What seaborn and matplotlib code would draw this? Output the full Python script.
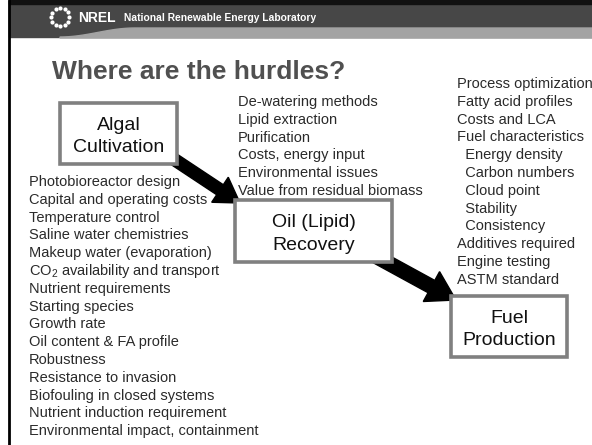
import numpy as np
import seaborn as sns
import matplotlib.pyplot as plt
from matplotlib.patches import Rectangle, Polygon, FancyArrow

# Slide text
title = "Where are the hurdles?"
header_org = "National Renewable Energy Laboratory"

stages = ["Algal\nCultivation", "Oil (Lipid)\nRecovery", "Fuel\nProduction"]

cultivation_hurdles = [
    "Photobioreactor design",
    "Capital and operating costs",
    "Temperature control",
    "Saline water chemistries",
    "Makeup water (evaporation)",
    "CO$_2$ availability and transport",
    "Nutrient requirements",
    "Starting species",
    "Growth rate",
    "Oil content & FA profile",
    "Robustness",
    "Resistance to invasion",
    "Biofouling in closed systems",
    "Nutrient induction requirement",
    "Environmental impact, containment",
]
recovery_hurdles = [
    "De-watering methods",
    "Lipid extraction",
    "Purification",
    "Costs, energy input",
    "Environmental issues",
    "Value from residual biomass",
]
fuel_hurdles = [
    "Process optimization",
    "Fatty acid profiles",
    "Costs and LCA",
    "Fuel characteristics",
    "  Energy density",
    "  Carbon numbers",
    "  Cloud point",
    "  Stability",
    "  Consistency",
    "Additives required",
    "Engine testing",
    "ASTM standard",
]

sns.set_theme(style="white")
plt.rcParams['font.family'] = ['Liberation Sans', 'DejaVu Sans']
plt.rcParams['mathtext.fontset'] = 'custom'
plt.rcParams['mathtext.rm'] = 'Liberation Sans'
plt.rcParams['mathtext.default'] = 'regular'

W, H = 592, 445
fig = plt.figure(figsize=(W / 100, H / 100), dpi=100)
ax = fig.add_axes([0, 0, 1, 1])
ax.set_xlim(0, W)
ax.set_ylim(H, 0)
ax.axis('off')

# header band
ax.add_patch(Rectangle((9, 0), W, 37, color='#474747', zorder=1))
ax.add_patch(Rectangle((9, 0), W, 4, color='#111111', zorder=2))
sx = np.linspace(60, 135, 30)
top = 37 - 9 * (1 - np.cos((sx - 60) / 75 * np.pi)) / 2
swoosh = list(zip(sx, top)) + [(W, 28), (W, 38), (60, 38)]
ax.add_patch(Polygon(swoosh, closed=True, color='#a3a3a3', zorder=2))
ax.plot([9, 9], [0, H], color='black', lw=2, zorder=3)

# logo dots
ang = np.linspace(0, 2 * np.pi, 12, endpoint=False)
ax.scatter(60 + 9 * np.cos(ang), 17 + 9 * np.sin(ang), s=9, color='white', zorder=3, lw=0)
ax.text(78, 18, "NREL", color='white', fontsize=10, fontweight='bold', va='center', zorder=3)
ax.text(124, 18, header_org, color='white', fontsize=7.4, fontweight='bold', va='center', zorder=3)

ax.text(52, 72, title, color='#505050', fontsize=19, fontweight='bold', va='center')

# arrows
ax.add_patch(FancyArrow(160, 150, 80, 53, width=12, head_width=30, head_length=24,
                        length_includes_head=True, color='black', zorder=4))
ax.add_patch(FancyArrow(370, 253, 86, 47, width=14, head_width=34, head_length=28,
                        length_includes_head=True, color='black', zorder=4))

# stage boxes
boxes = [(60, 103, 117, 61), (235, 200, 157, 62), (451, 296, 116, 61)]
for (x, y, w, h), label in zip(boxes, stages):
    ax.add_patch(Rectangle((x, y), w, h, facecolor='white', edgecolor='#808080', lw=2.6, zorder=5))
    ax.text(x + w / 2, y + h / 2 + 3, label, ha='center', va='center', fontsize=14,
            color='#111111', linespacing=1.4, zorder=6)

# hurdle lists
step = 17.8
for items, x0, y0 in [(cultivation_hurdles, 29, 182), (recovery_hurdles, 238, 102), (fuel_hurdles, 457, 84)]:
    for i, s in enumerate(items):
        ax.text(x0, y0 + i * step, s, fontsize=10.5, color='#2a2a2a', va='center', zorder=3)

plt.savefig('out.png', dpi=100)
